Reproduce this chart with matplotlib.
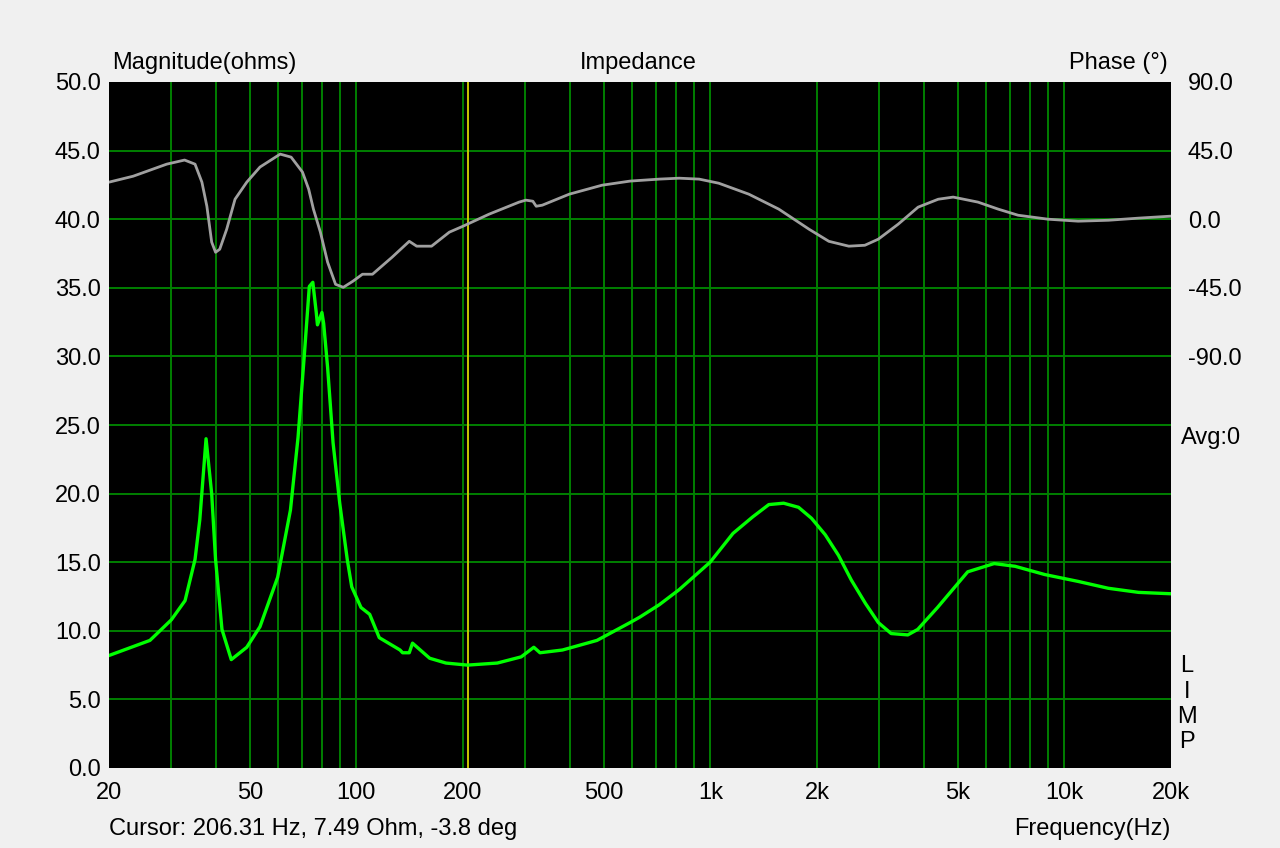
import matplotlib.pyplot as plt
import numpy as np

# impedance magnitude (ohms)
imp_freq = [20, 26.1, 30, 32.8, 35.0, 36.1, 37.6, 39.0, 40.0, 41.7, 44.3, 49.0, 53.4,
            59.9, 65.1, 68.4, 71.3, 73.6, 75.3, 77.0, 77.6, 79.9, 80.8, 82.9, 85.9,
            89.7, 94.2, 97.0, 103, 109, 116, 132.8, 135, 141, 144, 161, 179, 206, 250,
            292, 317, 330, 382, 478, 593, 632, 717, 816, 998, 1158, 1316, 1462, 1610,
            1774, 1930, 2110, 2300, 2500, 2740, 2980, 3240, 3610, 3850, 4380, 5330,
            6330, 7260, 8800, 10930, 13300, 16200, 20000]
imp_ohm = [8.2, 9.3, 10.8, 12.2, 15.2, 18.1, 24.0, 20.0, 15.2, 10.1, 7.9, 8.8, 10.3,
           13.9, 18.8, 24.1, 30.2, 35.1, 35.4, 33.2, 32.3, 33.2, 32.4, 29.2, 23.7,
           19.3, 15.2, 13.2, 11.7, 11.2, 9.5, 8.6, 8.4, 8.4, 9.1, 8.0, 7.65, 7.5, 7.65,
           8.1, 8.8, 8.4, 8.6, 9.3, 10.6, 11.0, 11.9, 13.0, 15.0, 17.1, 18.3, 19.2, 19.3,
           19.0, 18.2, 17.0, 15.5, 13.7, 12.0, 10.6, 9.8, 9.7, 10.1, 11.7, 14.3,
           14.9, 14.7, 14.1, 13.6, 13.1, 12.8, 12.7]

# phase (deg)
ph_freq = [20, 23.4, 29.1, 32.7, 35.0, 36.6, 37.8, 39.0, 40, 41.1, 43.0, 45.4, 49.0,
           53.4, 60.9, 65.4, 70.4, 73.3, 75.6, 79.1, 82.9, 87.3, 91.8, 97.7, 104, 111,
           126, 141, 148, 163, 183, 200, 237, 288, 301, 315, 322, 335, 399, 494, 593,
           717, 816, 929, 1056, 1284, 1560, 1900, 2160, 2460, 2730, 2980, 3390, 3860,
           4400, 4850, 5700, 6500, 7400, 8990, 10930, 13300, 16200, 20000]
ph_deg = [24.3, 28.2, 36.1, 38.8, 36.1, 24.3, 8.5, -15, -21.7, -19.7, -6.6, 13.1, 24.3,
          34.2, 42.7, 40.7, 30.9, 19.7, 6.6, -8.5, -28.2, -42.7, -44.7, -40.7, -36.1,
          -36.1, -25, -14.5, -17.7, -17.7, -8.5, -4.6, 3.3, 11.2, 12.5, 11.8, 8.5, 9.2,
          16.4, 22.3, 25, 26.3, 26.9, 26.3, 23.6, 16.4, 6.6, -6.6, -14.5, -17.7, -17.1,
          -13.1, -3.3, 7.9, 13.1, 14.5, 11.2, 6.6, 2.6, 0, -1.3, -0.7, 0.7, 2.0]

cursor_hz = 206.31
xticks = [20, 50, 100, 200, 500, 1000, 2000, 5000, 10000, 20000]
xlabels = ['20', '50', '100', '200', '500', '1k', '2k', '5k', '10k', '20k']
grid_f = [30, 40, 50, 60, 70, 80, 90, 100, 200, 300, 400, 500, 600, 700, 800, 900,
          1000, 2000, 3000, 4000, 5000, 6000, 7000, 8000, 9000, 10000]
ohm_ticks = np.arange(0, 50.1, 5)
ph_ticks = [90, 45, 0, -45, -90]

plt.rcParams['font.family'] = ['Liberation Sans', 'DejaVu Sans']
fs = 17
bg = '#f0f0f0'

fig = plt.figure(figsize=(12.8, 8.48), dpi=100, facecolor=bg)
ax = fig.add_axes([109/1280, 1-768/848, 1062/1280, 686/848])
ax.set_facecolor('black')
ax.set_xscale('log')
ax.set_xlim(20, 20000)
ax.set_ylim(0, 50)
for s in ax.spines.values():
    s.set_visible(False)

for f in grid_f:
    ax.axvline(f, color='#008000', lw=1.4, zorder=1)
for v in ohm_ticks[1:-1]:
    ax.axhline(v, color='#008000', lw=1.4, zorder=1)
ax.axvline(cursor_hz, color='#c8c800', lw=1.4, zorder=2)

ax.set_xticks(xticks)
ax.set_xticklabels(xlabels, fontsize=fs)
ax.xaxis.set_minor_locator(plt.NullLocator())
ax.set_yticks(ohm_ticks)
ax.set_yticklabels(['%.1f' % v for v in ohm_ticks], fontsize=fs)
ax.tick_params(axis='y', length=0, pad=6)
ax.tick_params(axis='x', length=0, pad=10)

ax.plot(imp_freq, imp_ohm, color='#00ff00', lw=2.4, zorder=4)

ax2 = ax.twinx()
ax2.set_ylim(-360, 90)
ax2.set_yticks(ph_ticks)
ax2.set_yticklabels(['%.1f' % v for v in ph_ticks], fontsize=fs)
ax2.tick_params(length=0, pad=12)
for s in ax2.spines.values():
    s.set_visible(False)
ax2.plot(ph_freq, ph_deg, color='#a0a0a0', lw=2.0, zorder=3)

fig.text(112/1280, 1-63/848, 'Magnitude(ohms)', fontsize=fs, va='center', ha='left')
fig.text(638/1280, 1-63/848, 'Impedance', fontsize=fs, va='center', ha='center')
fig.text(1168/1280, 1-63/848, 'Phase (°)', fontsize=fs, va='center', ha='right')
fig.text(1181/1280, 1-438/848, 'Avg:0', fontsize=fs, va='center', ha='left')
for i, ch in enumerate('LIMP'):
    fig.text(1187/1280, 1-(666 + i*25.5)/848, ch, fontsize=fs, va='center', ha='center')
fig.text(109/1280, 1-829/848, 'Cursor: 206.31 Hz, 7.49 Ohm, -3.8 deg', fontsize=fs,
         va='center', ha='left')
fig.text(1171/1280, 1-829/848, 'Frequency(Hz)', fontsize=fs, va='center', ha='right')

fig.savefig('out.png', dpi=100, facecolor=bg)
